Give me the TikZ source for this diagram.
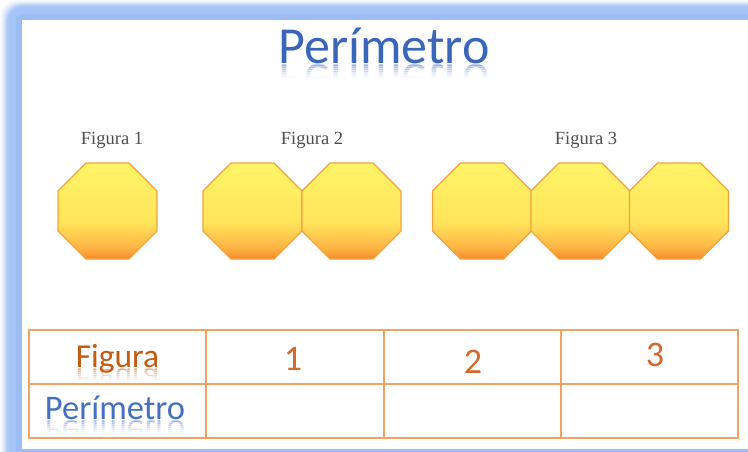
\documentclass[tikz,border=0pt]{standalone}
\usepackage{fontspec}
\setmainfont{Carlito}
\newfontfamily\labfont{Liberation Serif}
\newfontfamily\calfont{Carlito}
\definecolor{frameblue}{HTML}{9CBDF4}
\definecolor{titleblue}{HTML}{3A66BA}
\definecolor{tabblue}{HTML}{4470C2}
\definecolor{taborange}{HTML}{C55A11}
\definecolor{numorange}{HTML}{D2692E}
\definecolor{gridorange}{HTML}{F5A160}
\definecolor{octT}{HTML}{FFF466}
\definecolor{octM}{HTML}{FFE45A}
\definecolor{octO}{HTML}{FDB445}
\definecolor{octB}{HTML}{F88A28}
\definecolor{octline}{HTML}{F6A23C}
\definecolor{labgray}{HTML}{4F4F4F}
\pgfdeclareverticalshading{octshade}{100bp}{color(0bp)=(octB); color(25bp)=(octB); color(31bp)=(octO); color(44bp)=(octM); color(75bp)=(octT); color(100bp)=(octT)}
\tikzset{
  octa/.style={shading=octshade, draw=octline, line width=1.1pt, line join=miter},
  figlab/.style={font=\labfont\fontsize{18.5}{18.5}\selectfont, text=labgray, inner sep=0pt, anchor=base},
  tabtxt/.style={font=\calfont\fontsize{33.5}{33.5}\selectfont, inner sep=0pt, anchor=base},
  numtxt/.style={font=\calfont\fontsize{36}{36}\selectfont, text=numorange, inner sep=0pt, anchor=base},
  grid/.style={draw=gridorange, line width=1.5pt}
}
\newcommand\myocta[2]{%
  \path[octa] (#1-21.5,#2-48) -- (#1+21.5,#2-48) -- (#1+49.5,#2-20) -- (#1+49.5,#2+20)
    -- (#1+21.5,#2+48) -- (#1-21.5,#2+48) -- (#1-49.5,#2+20) -- (#1-49.5,#2-20) -- cycle;}
% reflected text helper: #1 name, #2 x, #3 baseline y, #4 style, #5 text, #6 clip left, #7 clip right
\newcommand\myrefl[7]{%
  \foreach \i/\o in {0/0.32,1/0.26,2/0.2,3/0.15,4/0.1,5/0.06,6/0.03}{%
    \begin{scope}
      \clip (#6,#3+2*\i) rectangle (#7,#3+2*\i+2);
      \node[#4, yscale=-1, opacity=\o] (#1\i) at (#2,#3+1) {#5};
    \end{scope}}}
\begin{document}
\begin{tikzpicture}[x=1pt,y=-1pt]
\useasboundingbox (0,0) rectangle (748,451);
\fill[white] (0,0) rectangle (748,451);
% glowing frame
\foreach \k/\c in {0/6,1/12,2/20,3/30,4/42,5/56,6/70,7/82}{
  \fill[frameblue!\c!white, rounded corners=16pt] (\k,0.8*\k) rectangle (800,500);
}
\fill[frameblue!90!white, rounded corners=12pt] (9,7) rectangle (800,500);
\fill[frameblue, rounded corners=6pt] (16,14) rectangle (800,500);
\fill[white] (22,20) rectangle (800,449);
% title
\node[font=\calfont\fontsize{52}{52}\selectfont, text=titleblue, inner sep=0pt, anchor=base] (title) at (384,63) {Perímetro};
\myrefl{tr}{384}{63}{font=\calfont\fontsize{52}{52}\selectfont, text=titleblue, inner sep=0pt, anchor=base}{Perímetro}{260}{510}
% figure labels
\node[figlab] (f1) at (112,144) {Figura 1};
\node[figlab] (f2) at (312,144) {Figura 2};
\node[figlab] (f3) at (586,144) {Figura 3};
% octagons
\myocta{107.5}{211}
\myocta{252.5}{211}
\myocta{351.5}{211}
\myocta{482}{211}
\myocta{580.5}{211}
\myocta{679}{211}
% table
\coordinate (tl) at (29,330);
\coordinate (br) at (738,438);
\draw[grid] (tl) rectangle (br);
\draw[grid] (29,384) -- (738,384);
\draw[grid] (206,330) -- (206,438);
\draw[grid] (384,330) -- (384,438);
\draw[grid] (561,330) -- (561,438);
\node[tabtxt, text=taborange] (tfig) at (117.5,367) {Figura};
\myrefl{rf}{117.5}{367}{tabtxt, text=taborange}{Figura}{30}{205}
\node[tabtxt, text=tabblue, font=\calfont\fontsize{34.5}{34.5}\selectfont] (tper) at (115,419) {Perímetro};
\myrefl{rp}{115}{419}{tabtxt, text=tabblue, font=\calfont\fontsize{34.5}{34.5}\selectfont}{Perímetro}{30}{205}
\node[numtxt] (n1) at (293,370) {1};
\node[numtxt] (n2) at (473,373) {2};
\node[numtxt] (n3) at (655,366) {3};
\end{tikzpicture}
\end{document}
